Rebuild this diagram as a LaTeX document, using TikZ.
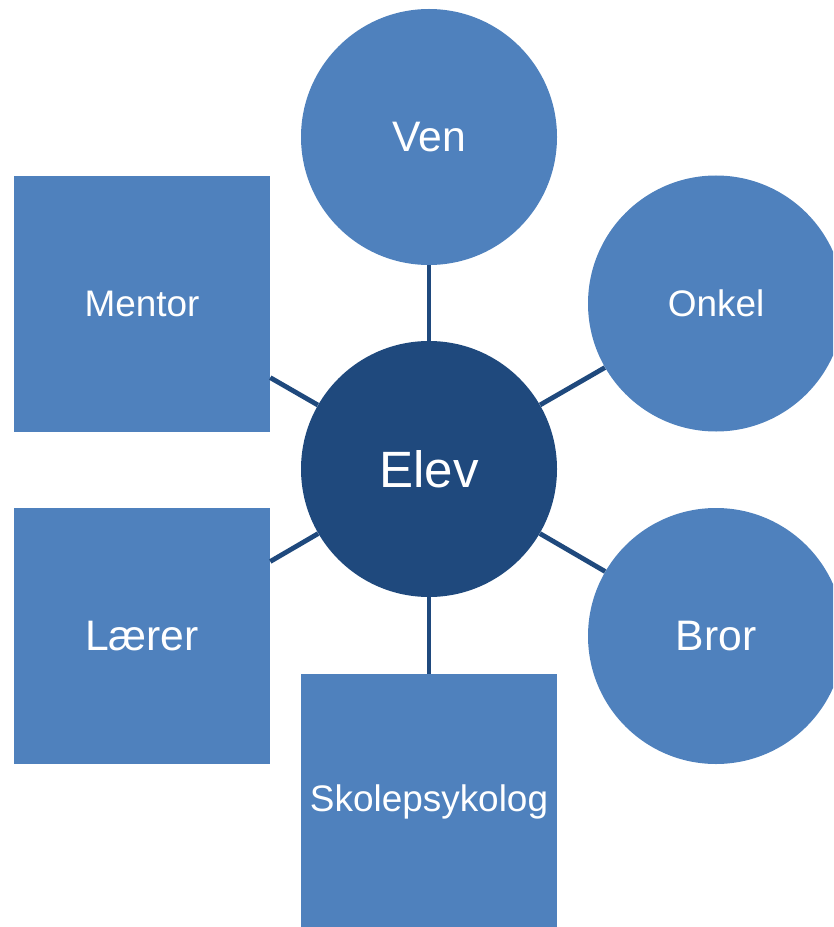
\documentclass[tikz,border=0pt]{standalone}
\usepackage{fontspec}
\setmainfont{Liberation Sans}
\definecolor{lightblue}{HTML}{4F81BD}
\definecolor{darkblue}{HTML}{1F497D}
\begin{document}
\begin{tikzpicture}[x=0.75pt,y=-0.75pt,
  outer/.style={fill=lightblue,draw=none,text=white,inner sep=0pt,font=\fontsize{27.7}{30}\selectfont},
  bigtext/.style={font=\fontsize{32}{35}\selectfont},
  roundnode/.style={outer,circle,minimum size=192pt},
  boxnode/.style={outer,rectangle,minimum size=192pt},
  centre/.style={circle,fill=darkblue,text=white,minimum size=192pt,inner sep=0pt,font=\fontsize{38.3}{42}\selectfont},
  link/.style={draw=darkblue,line width=3.6pt}]
\useasboundingbox (0,0) rectangle (833,927);
\clip (0,0) rectangle (833,927);
\node[centre] (elev) at (429,469) {Elev};
\node[roundnode,bigtext] (ven) at (429,137) {Ven};
\node[roundnode] (onkel) at (716,303.5) {Onkel};
\node[roundnode,bigtext] (bror) at (716,636) {Bror};
\node[boxnode] (mentor) at (142,304) {Mentor};
\node[boxnode,bigtext] (laerer) at (142,636) {Lærer};
\node[boxnode] (skole) at (429,802) {Skolepsykolog};
\foreach \n in {ven,onkel,bror,mentor,laerer,skole}
  \draw[link] (elev) -- (\n);
\end{tikzpicture}
\end{document}
